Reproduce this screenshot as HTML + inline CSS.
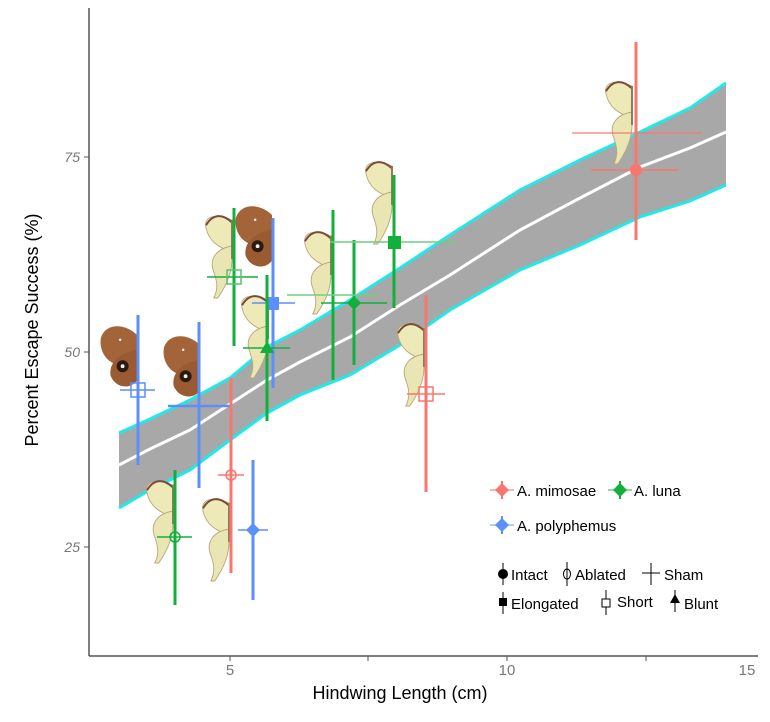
<!DOCTYPE html>
<html><head><meta charset="utf-8"><style>
html,body{margin:0;padding:0;background:#fff;}
svg text{font-family:"Liberation Sans",Arial,sans-serif;}
</style></head><body>
<svg width="770" height="717" viewBox="0 0 770 717" xmlns="http://www.w3.org/2000/svg">
<defs>
<g id="luna">
 <path d="M0,0 C-14,-6 -22,-2 -20,6 C-18,16 -10,22 0,24 Z" fill="#eeeab8" stroke="#b9a77a" stroke-width="0.7"/>
 <path d="M0,20 C-12,22 -18,30 -14,40 C-12,46 -10,52 -14,60 L-11,60 C-4,50 0,40 0,30 Z" fill="#e9e6b3" stroke="#b9a77a" stroke-width="0.7"/>
 <path d="M-20,4 C-14,-6 -6,-4 0,2" fill="none" stroke="#7a4a3a" stroke-width="1.5"/>
 <line x1="0" y1="0" x2="0" y2="30" stroke="#8a7a5a" stroke-width="1.5"/>
</g>
<g id="poly">
 <path d="M0,0 C-10,-10 -26,-10 -30,2 C-32,12 -26,22 -18,24 L0,12 Z" fill="#a4643a"/>
 <path d="M0,12 C-10,14 -24,20 -22,34 C-18,44 -6,46 0,38 Z" fill="#9a5a32"/>
 <circle cx="-12" cy="26" r="5" fill="#2a1a10"/><circle cx="-12" cy="26" r="1.6" fill="#eee"/>
 <circle cx="-14" cy="4" r="1" fill="#fff"/>
</g>
</defs>

<!-- band -->
<path d="M119,433 L150,419 L190,400 L230,378 L267,347 L300,330 L350,300 L400,268 L450,235 L520,190 L580,160 L640,132 L690,108 L726,83 L726,185 L690,201 L640,217 L580,245 L520,270 L450,310 L400,345 L350,375 L300,395 L267,413 L230,440 L190,470 L150,490 L119,508 Z" fill="#a8a8a8"/>
<path d="M119,433 L150,419 L190,400 L230,378 L267,347 L300,330 L350,300 L400,268 L450,235 L520,190 L580,160 L640,132 L690,108 L726,83" fill="none" stroke="#22e8e8" stroke-width="3"/>
<path d="M119,508 L150,490 L190,470 L230,440 L267,413 L300,395 L350,375 L400,345 L450,310 L520,270 L580,245 L640,217 L690,201 L726,185" fill="none" stroke="#22e8e8" stroke-width="3"/>
<path d="M119,465 L150,449 L190,430 L230,404 L267,380 L300,362 L350,337 L400,305 L450,275 L520,230 L580,198 L640,167 L690,148 L726,132" fill="none" stroke="#fff" stroke-width="3"/>

<!-- axes -->
<line x1="89" y1="8" x2="89" y2="656" stroke="#555" stroke-width="1.5"/>
<line x1="89" y1="656" x2="758" y2="656" stroke="#555" stroke-width="1.5"/>
<g stroke="#555" stroke-width="1">
<line x1="84" y1="157" x2="89" y2="157"/><line x1="84" y1="352" x2="89" y2="352"/><line x1="84" y1="547" x2="89" y2="547"/>
<line x1="230" y1="656" x2="230" y2="661"/><line x1="368" y1="656" x2="368" y2="661"/><line x1="507" y1="656" x2="507" y2="661"/><line x1="646" y1="656" x2="646" y2="661"/>
</g>
<g fill="#777" font-size="14" text-anchor="end" font-style="italic">
<text x="80" y="162">75</text><text x="80" y="357">50</text><text x="80" y="552">25</text>
</g>
<g fill="#777" font-size="15" text-anchor="middle">
<text x="230" y="675">5</text><text x="507" y="675">10</text><text x="747" y="675">15</text>
</g>
<text x="400" y="699" font-size="18" text-anchor="middle" fill="#000">Hindwing Length (cm)</text>
<text transform="translate(38,330) rotate(-90)" font-size="18" text-anchor="middle" fill="#000">Percent Escape Success  (%)</text>

<!-- moths -->
<use href="#poly" transform="translate(137,335) scale(1.2)"/>
<use href="#poly" transform="translate(200,345) scale(1.2)"/>
<use href="#poly" transform="translate(272,215) scale(1.2)"/>
<use href="#luna" transform="translate(232,220) scale(1.3)"/>
<use href="#luna" transform="translate(268,300) scale(1.3)"/>
<use href="#luna" transform="translate(331,236) scale(1.3)"/>
<use href="#luna" transform="translate(392,166) scale(1.3)"/>
<use href="#luna" transform="translate(424,328) scale(1.3)"/>
<use href="#luna" transform="translate(632,86) scale(1.3)"/>
<use href="#luna" transform="translate(173,485) scale(1.3)"/>
<use href="#luna" transform="translate(229,503) scale(1.3)"/>

<!-- blue -->
<g stroke="#5b8ff9" stroke-width="3" fill="none">
<line x1="138" y1="315" x2="138" y2="465"/>
<line x1="199" y1="322" x2="199" y2="488"/>
<line x1="273" y1="218" x2="273" y2="388"/>
<line x1="253" y1="460" x2="253" y2="600"/>
</g>
<g stroke="#5b8ff9" stroke-width="1.5" fill="none">
<line x1="120" y1="390" x2="155" y2="390"/><rect x="131" y="383" width="14" height="14"/>
<line x1="168" y1="406" x2="232" y2="406" stroke-width="2.5"/>
<line x1="252" y1="303" x2="295" y2="303"/>
<line x1="238" y1="530" x2="268" y2="530"/>
</g>
<rect x="266" y="297" width="13" height="13" fill="#5b8ff9"/>
<path d="M253,523 L260,530 L253,537 L246,530 Z" fill="#5b8ff9"/>

<!-- red -->
<g stroke="#f8766d" stroke-width="3" fill="none">
<line x1="231" y1="378" x2="231" y2="573"/>
<line x1="426" y1="295" x2="426" y2="492"/>
<line x1="636" y1="42" x2="636" y2="240"/>
</g>
<g stroke="#f8766d" stroke-width="1.5" fill="none">
<line x1="218" y1="475" x2="244" y2="475"/><circle cx="231" cy="475" r="5"/>
<line x1="407" y1="394" x2="445" y2="394"/><rect x="419" y="387" width="14" height="14"/>
<line x1="591" y1="170" x2="678" y2="170"/>
<line x1="572" y1="133" x2="702" y2="133" stroke-opacity="0.8"/>
</g>
<circle cx="636" cy="170" r="6" fill="#f8766d"/>

<!-- green -->
<g stroke="#12b03a" stroke-width="3" fill="none">
<line x1="175" y1="470" x2="175" y2="605"/>
<line x1="234" y1="208" x2="234" y2="346"/>
<line x1="267" y1="275" x2="267" y2="421"/>
<line x1="333" y1="210" x2="333" y2="380"/>
<line x1="354" y1="240" x2="354" y2="365"/>
<line x1="394" y1="175" x2="394" y2="308"/>
</g>
<g stroke="#12b03a" stroke-width="1.5" fill="none">
<line x1="157" y1="537" x2="192" y2="537"/><circle cx="175" cy="537" r="5"/>
<line x1="207" y1="277" x2="258" y2="277"/><rect x="227" y="270" width="14" height="14" stroke="#5cc070"/>
<line x1="243" y1="348" x2="290" y2="348"/>
<line x1="287" y1="295" x2="378" y2="295" stroke="#6fcf80"/>
<line x1="321" y1="303" x2="387" y2="303"/>
<line x1="330" y1="242" x2="457" y2="242" stroke="#6fcf80"/>
</g>
<path d="M267,341 L274,353 L260,353 Z" fill="#12b03a"/>
<path d="M354,296 L361,303 L354,310 L347,303 Z" fill="#12b03a"/>
<rect x="388" y="236" width="13" height="13" fill="#12b03a"/>

<!-- legend -->
<g font-size="15" fill="#000">
<line x1="490" y1="490" x2="514" y2="490" stroke="#f8a09a" stroke-width="1.5"/><line x1="502" y1="481" x2="502" y2="499" stroke="#f8766d" stroke-width="2"/><path d="M502,483 L509,490 L502,497 L495,490 Z" fill="#f8766d"/>
<text x="517" y="496">A. mimosae</text>
<line x1="608" y1="490" x2="632" y2="490" stroke="#6fcf80" stroke-width="1.5"/><line x1="620" y1="481" x2="620" y2="499" stroke="#12b03a" stroke-width="2"/><path d="M620,483 L627,490 L620,497 L613,490 Z" fill="#12b03a"/>
<text x="634" y="496">A. luna</text>
<line x1="490" y1="525" x2="514" y2="525" stroke="#9bbcf9" stroke-width="1.5"/><line x1="502" y1="516" x2="502" y2="534" stroke="#5b8ff9" stroke-width="2"/><path d="M502,518 L509,525 L502,532 L495,525 Z" fill="#5b8ff9"/>
<text x="517" y="531">A. polyphemus</text>

<line x1="503" y1="563" x2="503" y2="585" stroke="#000"/><circle cx="503" cy="574" r="5" fill="#000"/>
<text x="511" y="580">Intact</text>
<line x1="567" y1="562" x2="567" y2="586" stroke="#000"/><ellipse cx="567" cy="574" rx="3.5" ry="5" fill="none" stroke="#000"/>
<text x="575" y="580">Ablated</text>
<line x1="642" y1="573" x2="660" y2="573" stroke="#000"/><line x1="651" y1="563" x2="651" y2="585" stroke="#000"/>
<text x="664" y="580">Sham</text>

<line x1="503" y1="592" x2="503" y2="614" stroke="#000"/><rect x="499" y="598" width="8" height="8" fill="#000"/>
<text x="511" y="609">Elongated</text>
<line x1="606" y1="590" x2="606" y2="615" stroke="#000"/><rect x="602" y="599" width="8" height="8" fill="#fff" stroke="#000"/>
<text x="617" y="607">Short</text>
<line x1="675" y1="590" x2="675" y2="612" stroke="#000"/><path d="M675,594 L680,603 L670,603 Z" fill="#000"/>
<text x="684" y="609">Blunt</text>
</g>
</svg>
</body></html>
